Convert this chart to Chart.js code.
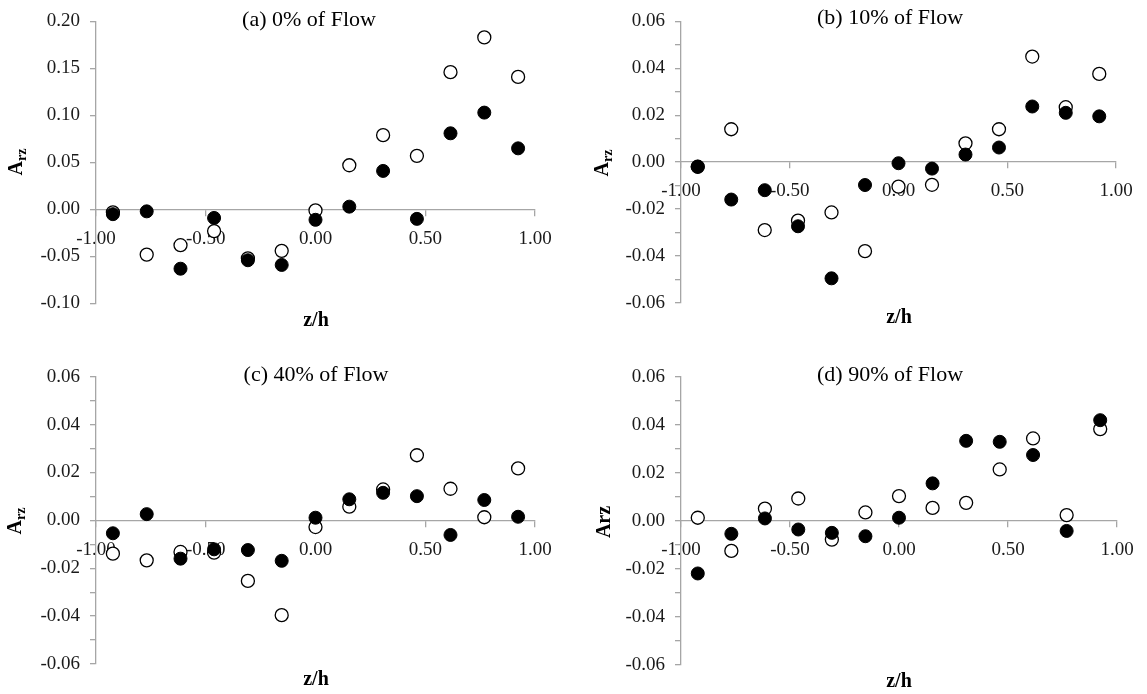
<!DOCTYPE html>
<html>
<head>
<meta charset="utf-8">
<script src="https://cdn.jsdelivr.net/npm/chart.js@4.4.1/dist/chart.umd.min.js"></script>
<style>
  html, body { margin: 0; padding: 0; background: #fff; }
  body { width: 1147px; height: 694px; position: relative; overflow: hidden; }
  .panel { position: absolute; }
  #pa { left: 0; top: 0; width: 573px; height: 345px; }
  #pb { left: 573px; top: 0; width: 574px; height: 345px; }
  #pc { left: 0; top: 345px; width: 573px; height: 349px; }
  #pd { left: 573px; top: 345px; width: 574px; height: 349px; }
</style>
</head>
<body>
<div class="panel" id="pa"><canvas id="chartA"></canvas></div>
<div class="panel" id="pb"><canvas id="chartB"></canvas></div>
<div class="panel" id="pc"><canvas id="chartC"></canvas></div>
<div class="panel" id="pd"><canvas id="chartD"></canvas></div>
<script>
// z/h positions shared by all panels
const zh = [-0.923, -0.769, -0.615, -0.462, -0.308, -0.154, 0, 0.154, 0.308, 0.462, 0.615, 0.769, 0.923];

// (a) 0% of Flow
const aOpen = [-0.003, -0.048, -0.038, -0.023, -0.052, -0.044, -0.001, 0.047, 0.079, 0.057, 0.146, 0.183, 0.141];
const aFilled = [-0.005, -0.002, -0.063, -0.009, -0.054, -0.059, -0.011, 0.003, 0.041, -0.010, 0.081, 0.103, 0.065];

// (b) 10% of Flow
const bOpen = [-0.002, 0.014, -0.029, -0.025, -0.0215, -0.038, -0.0105, -0.0097, 0.008, 0.014, 0.045, 0.0234, 0.0376];
const bFilled = [-0.002, -0.016, -0.012, -0.0274, -0.0496, -0.0098, -0.0005, -0.0028, 0.0032, 0.0062, 0.0237, 0.021, 0.0195];

// (c) 40% of Flow
const cOpen = [-0.0139, -0.0167, -0.0132, -0.0135, -0.0253, -0.0396, -0.0028, 0.0057, 0.0129, 0.0272, 0.0132, 0.0013, 0.0217];
const cFilled = [-0.0054, 0.0026, -0.016, -0.0121, -0.0124, -0.0169, 0.0011, 0.0088, 0.0115, 0.0101, -0.0061, 0.0085, 0.0015];

// (d) 90% of Flow
const dOpen = [0.0013, -0.0125, 0.0051, 0.0093, -0.0078, 0.0035, 0.0103, 0.0054, 0.0075, 0.0214, 0.0343, 0.0024, 0.0382];
const dFilled = [-0.0219, -0.0054, 0.001, -0.0036, -0.005, -0.0064, 0.0013, 0.0156, 0.0333, 0.0329, 0.0274, -0.0042, 0.0419];

// axis ranges
const xRange = [-1, 1, 0.5];
const yRangeA = [-0.1, 0.2, 0.05, 0.05];   // min, max, step, label step
const yRangeSmall = [-0.06, 0.06, 0.01, 0.02];

const titles = ["(a) 0% of Flow", "(b) 10% of Flow", "(c) 40% of Flow", "(d) 90% of Flow"];

const SERIF = '"Liberation Serif", "Times New Roman", serif';
const AXIS_GRAY = "#a6a6a6";

Chart.defaults.font.family = SERIF;
Chart.defaults.animation = false;

const toPts = (ys) => ys.map((y, i) => ({ x: zh[i], y: y }));

// draws title, x label and y label (A with subscript rz)
const panelText = {
  id: "panelText",
  afterDraw(chart, args, o) {
    const ctx = chart.ctx;
    ctx.save();
    ctx.fillStyle = "#000";
    ctx.textAlign = "center";
    ctx.textBaseline = "middle";
    ctx.font = "22px " + SERIF;
    ctx.fillText(o.title, o.titleX, o.titleY);
    ctx.font = "bold 20px " + SERIF;
    ctx.fillText("z/h", o.xlabX, o.xlabY);

    ctx.translate(o.ylabX, o.ylabY);
    ctx.rotate(-Math.PI / 2);
    ctx.textAlign = "left";
    if (o.subscript) {
      ctx.font = "bold 20px " + SERIF;
      const wA = ctx.measureText("A").width;
      ctx.font = "bold 14px " + SERIF;
      const wS = ctx.measureText("rz").width;
      const x0 = -(wA + wS) / 2;
      ctx.font = "bold 20px " + SERIF;
      ctx.fillText("A", x0, 0);
      ctx.font = "bold 14px " + SERIF;
      ctx.fillText("rz", x0 + wA, 5);
    } else {
      ctx.textAlign = "center";
      ctx.font = "bold 20px " + SERIF;
      ctx.fillText("Arz", 0, 0);
    }
    ctx.restore();
  },
};

function makePanel(id, open, filled, yr, yWidth, pad, text) {
  const ctx = document.getElementById(id).getContext("2d");
  return new Chart(ctx, {
    type: "scatter",
    data: {
      datasets: [
        {
          label: "filled",
          data: toPts(filled),
          backgroundColor: "#000",
          borderColor: "#000",
          borderWidth: 1,
          pointRadius: 6.5,
          pointHoverRadius: 6.5,
        },
        {
          label: "open",
          data: toPts(open),
          backgroundColor: "#fff",
          borderColor: "#000",
          borderWidth: 1.3,
          pointRadius: 6.5,
          pointHoverRadius: 6.5,
        },
      ],
    },
    options: {
      responsive: true,
      maintainAspectRatio: false,
      layout: { padding: pad },
      plugins: {
        legend: { display: false },
        tooltip: { enabled: false },
        panelText: text,
      },
      scales: {
        x: {
          type: "linear",
          position: { y: 0 },
          min: xRange[0],
          max: xRange[1],
          ticks: {
            stepSize: xRange[2],
            color: "#1a1a1a",
            font: { size: 19 },
            padding: 12,
            maxRotation: 0,
            callback: (v) => (Math.abs(v) < 1e-9 ? 0 : v).toFixed(2),
          },
          grid: { drawOnChartArea: false, tickLength: 6, color: AXIS_GRAY, lineWidth: 1.3 },
          border: { color: AXIS_GRAY, width: 1.3 },
        },
        y: {
          type: "linear",
          position: "left",
          min: yr[0],
          max: yr[1],
          afterFit: (scale) => { scale.width = yWidth; },
          ticks: {
            stepSize: yr[2],
            autoSkip: false,
            color: "#1a1a1a",
            font: { size: 19 },
            padding: 10,
            callback: (v) => {
              const n = Math.round(v / yr[2]);
              const every = Math.round(yr[3] / yr[2]);
              if (n % every !== 0) return "";
              return (Math.abs(v) < 1e-9 ? 0 : v).toFixed(2);
            },
          },
          grid: { drawOnChartArea: false, tickLength: 6, color: AXIS_GRAY, lineWidth: 1.3 },
          border: { color: AXIS_GRAY, width: 1.3 },
        },
      },
    },
    plugins: [panelText],
  });
}

makePanel("chartA", aOpen, aFilled, yRangeA, 96,
  { left: 0, top: 17, right: 38, bottom: 41.5 },
  { title: titles[0], titleX: 309, titleY: 20, xlabX: 316, xlabY: 321, ylabX: 17, ylabY: 162, subscript: true });

makePanel("chartB", bOpen, bFilled, yRangeSmall, 108,
  { left: 0, top: 15.7, right: 31, bottom: 42.3 },
  { title: titles[1], titleX: 317, titleY: 18, xlabX: 326, xlabY: 318, ylabX: 30, ylabY: 163, subscript: true });

makePanel("chartC", cOpen, cFilled, yRangeSmall, 96,
  { left: 0, top: 31.7, right: 38, bottom: 30 },
  { title: titles[2], titleX: 316, titleY: 30, xlabX: 316, xlabY: 335, ylabX: 16, ylabY: 176, subscript: true });

makePanel("chartD", dOpen, dFilled, yRangeSmall, 108,
  { left: 0, top: 31.7, right: 30, bottom: 29 },
  { title: titles[3], titleX: 317, titleY: 30, xlabX: 326, xlabY: 337, ylabX: 32, ylabY: 177, subscript: false });
</script>
</body>
</html>
